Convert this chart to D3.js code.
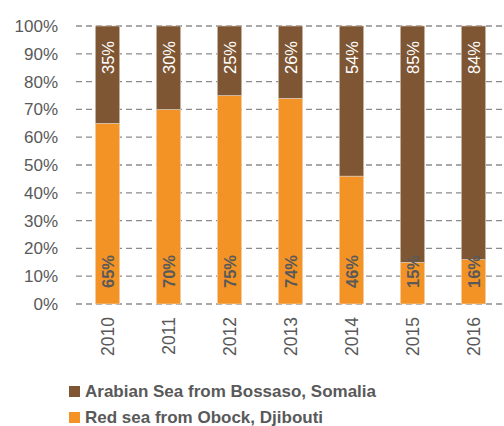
<!DOCTYPE html>
<html>
<head>
<meta charset="utf-8">
<script src="https://cdn.jsdelivr.net/npm/d3@7"></script>
<style>
  body { margin: 0; background: #fff; }
  svg { display: block; font-family: "Liberation Sans", Arial, sans-serif; }
</style>
</head>
<body>
<div id="chart"></div>
<script>
const years = ["2010", "2011", "2012", "2013", "2014", "2015", "2016"];
const redSea = [65, 70, 75, 74, 46, 15, 16];       // Red sea from Obock, Djibouti
const arabianSea = [35, 30, 25, 26, 54, 85, 84];   // Arabian Sea from Bossaso, Somalia
const yTicks = [0, 10, 20, 30, 40, 50, 60, 70, 80, 90, 100];
const seriesNames = ["Arabian Sea from Bossaso, Somalia", "Red sea from Obock, Djibouti"];

const width = 504, height = 426;
const brown = "#7f5633", orange = "#f39325", grey = "#595959";

const svg = d3.select("#chart").append("svg")
    .attr("width", width)
    .attr("height", height);

const x = d3.scaleBand().domain(years).range([77, 504]).paddingInner(0.6).paddingOuter(0.3);
const y = d3.scaleLinear().domain([0, 100]).range([304, 26]);

// gridlines
svg.append("g")
    .selectAll("line")
    .data(yTicks)
    .join("line")
    .attr("x1", 76).attr("x2", 502)
    .attr("y1", d => y(d)).attr("y2", d => y(d))
    .attr("stroke", "#8c8c8c")
    .attr("stroke-width", 1.3)
    .attr("stroke-dasharray", "6,4");

// y axis
svg.append("g")
    .attr("transform", "translate(58,0)")
    .call(d3.axisLeft(y).tickValues(yTicks).tickFormat(d => d + "%").tickSize(0).tickPadding(0))
    .call(g => g.select(".domain").remove())
    .call(g => g.selectAll("text")
        .attr("font-family", "Liberation Sans, Arial, sans-serif")
        .attr("font-size", 17)
        .attr("fill", grey));

const bw = x.bandwidth();

// bars
const bars = svg.append("g");
years.forEach((yr, i) => {
  bars.append("rect")
      .attr("x", x(yr)).attr("width", bw)
      .attr("y", y(redSea[i])).attr("height", y(0) - y(redSea[i]))
      .attr("fill", orange)
      .attr("stroke", "#f3d9bf").attr("stroke-width", 0.6);
  bars.append("rect")
      .attr("x", x(yr)).attr("width", bw)
      .attr("y", y(100)).attr("height", y(redSea[i]) - y(100))
      .attr("fill", brown)
      .attr("stroke", "#d9cbbf").attr("stroke-width", 0.6);
});

// labels - top (inside end)
svg.append("g")
    .selectAll("text")
    .data(years)
    .join("text")
    .attr("transform", d => `translate(${x(d) + bw / 2 + 6},${y(100) + 15}) rotate(-90)`)
    .attr("text-anchor", "end")
    .attr("font-size", 16.5)
    .attr("fill", "#fff")
    .text((d, i) => arabianSea[i] + "%");

// labels - bottom (inside base)
svg.append("g")
    .selectAll("text")
    .data(years)
    .join("text")
    .attr("transform", d => `translate(${x(d) + bw / 2 + 6},${y(0) - 16}) rotate(-90)`)
    .attr("text-anchor", "start")
    .attr("font-size", 16.5)
    .attr("font-weight", "bold")
    .attr("fill", grey)
    .text((d, i) => redSea[i] + "%");

// x axis labels
svg.append("g")
    .selectAll("text")
    .data(years)
    .join("text")
    .attr("transform", d => `translate(${x(d) + bw / 2 + 6},${y(0) + 13}) rotate(-90)`)
    .attr("text-anchor", "end")
    .attr("font-size", 17.5)
    .attr("fill", grey)
    .text(d => d);

// legend
const legend = svg.append("g")
    .selectAll("g")
    .data(seriesNames)
    .join("g")
    .attr("transform", (d, i) => `translate(69,${386 + i * 26})`);
legend.append("rect")
    .attr("width", 11).attr("height", 11)
    .attr("fill", (d, i) => i === 0 ? brown : orange);
legend.append("text")
    .attr("x", 16).attr("y", 11)
    .attr("font-size", 17)
    .attr("font-weight", "bold")
    .attr("fill", grey)
    .text(d => d);
</script>
</body>
</html>
